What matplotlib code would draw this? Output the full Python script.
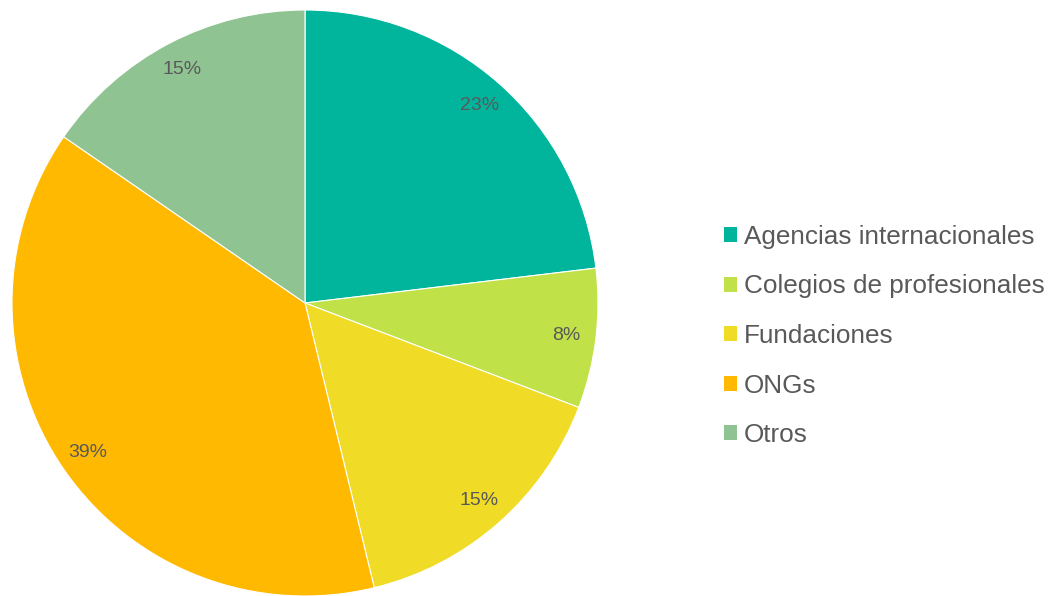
import numpy as np
import matplotlib
matplotlib.use("Agg")
import matplotlib.pyplot as plt
from matplotlib.patches import Patch

plt.rcParams['font.family'] = ['Liberation Sans', 'DejaVu Sans']

# Datos
categorias = ["Agencias internacionales", "Colegios de profesionales",
              "Fundaciones", "ONGs", "Otros"]
valores = [23.1, 7.7, 15.4, 38.4, 15.4]
etiquetas = ["23%", "8%", "15%", "39%", "15%"]
colores = ["#00B59C", "#C1E148", "#F0DB27", "#FFB900", "#8FC492"]

W, H = 1057, 596
fig = plt.figure(figsize=(W / 100, H / 100), dpi=100)

# eje del pastel: centro (305, 303), radio 293 px
cx, cy, r = 305, 303, 293
ax = fig.add_axes([(cx - r) / W, (H - cy - r) / H, 2 * r / W, 2 * r / H])
wedges, _ = ax.pie(valores, colors=colores, startangle=90, counterclock=False,
                   radius=1, wedgeprops=dict(linewidth=0.8, edgecolor='white'))
ax.set_xlim(-1, 1)
ax.set_ylim(-1, 1)
ax.set_aspect('equal')
ax.axis('off')

for w, txt in zip(wedges, etiquetas):
    ang = np.deg2rad((w.theta1 + w.theta2) / 2)
    ax.text(0.9 * np.cos(ang), 0.9 * np.sin(ang), txt, ha='center', va='center',
            fontsize=14, color='#595959')

handles = [Patch(facecolor=c, edgecolor='none') for c in colores]
fig.legend(handles, categorias, loc='center left',
           bbox_to_anchor=(700 / W, 1 - 336 / H), frameon=False,
           fontsize=18.8, labelcolor='#595959', handlelength=0.5,
           handleheight=0.5, handletextpad=0.27, labelspacing=0.98)

fig.savefig("out.png", dpi=100, facecolor='white')
